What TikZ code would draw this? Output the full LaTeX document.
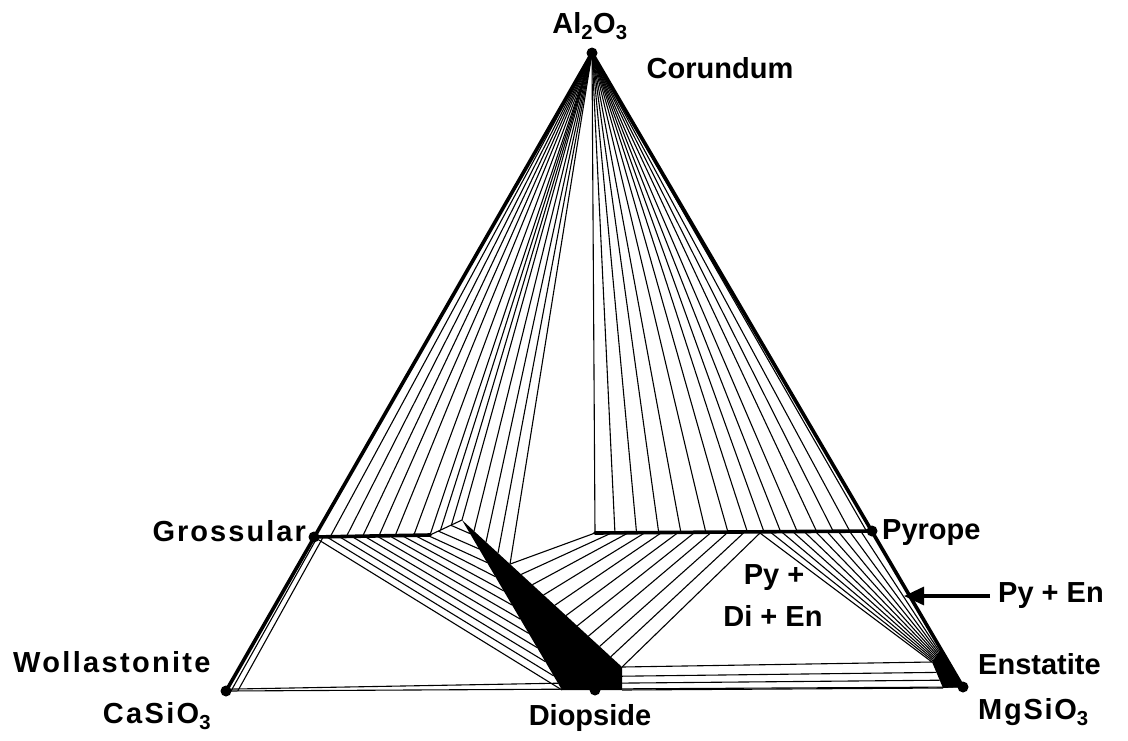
\documentclass[tikz,border=0pt]{standalone}
\usepackage{fontspec}
\setmainfont{Liberation Sans}
\usetikzlibrary{arrows.meta,calc}
\begin{document}
\begin{tikzpicture}[x=1pt,y=-1pt,
  edge/.style={line width=3.6pt, line cap=round, line join=round},
  tie/.style={line width=1.1pt},
  lbl/.style={font=\fontsize{29}{31}\selectfont\bfseries, inner sep=0pt},
  dot/.style={circle, fill=black, inner sep=0pt, minimum size=11pt}]
\useasboundingbox (0,0) rectangle (1128,740);
% key points
\coordinate (A) at (592,53);
\coordinate (C) at (226,691);
\coordinate (M) at (963,687);
\coordinate (Gr) at (314,537);
\coordinate (Py) at (872,531);
\coordinate (Di) at (595,690);
\coordinate (K) at (430,535);
\coordinate (WT) at (462,520);
\coordinate (WL) at (562,690);
\coordinate (WR) at (622,690);
\coordinate (WRt) at (622,667);
\coordinate (W1) at ($(WT)!0.3!(WRt)$);
\coordinate (V) at (595,533);
\coordinate (PD) at (760,533);
\coordinate (E1) at (940,650);
\coordinate (E2) at (943,688);
\coordinate (E3) at (932,662);
\coordinate (arrtip) at (904,596);

% base
\draw[tie] (C) -- (M);
\draw[tie] ($(C)!0.012!(Gr)$) -- ($(WL)!0.04!(WT)$);
% Gr - Wo tie lines
\draw[tie] ($(Gr)!0.03!(K)$) -- ($(C)!0.015!(WL)$);
\draw[tie] ($(Gr)!0.08!(K)$) -- ($(C)!0.035!(WL)$);
% Gr - Di tie lines
\foreach \s/\r in {0/0, .108/.083, .217/.167, .325/.25, .433/.333, .541/.417, .649/.5, .757/.583, .866/.667, .974/.75}
  \draw[tie] ($(Gr)!\s!(K)$) -- ($(WL)!\r!(WT)$);
\foreach \u/\r in {.26/.83, .65/.92}
  \draw[tie] ($(K)!\u!(WT)$) -- ($(WL)!\r!(WT)$);
\draw[tie] (K) -- (WT);
% Corundum fans (left)
\foreach \t in {0.14,0.28,0.42,0.56,0.70,0.86}
  \draw[tie] (A) -- ($(Gr)!\t!(K)$);
\draw[tie] (A) -- (K);
\foreach \t in {0.33,0.67}
  \draw[tie] (A) -- ($(K)!\t!(WT)$);
\draw[tie] (A) -- (WT);
\foreach \t in {0.25,0.5,0.75,1}
  \draw[tie] (A) -- ($(WT)!\t!(W1)$);
% Corundum fan (right)
\draw[tie] (A) -- (V);
\foreach \t in {.072,.15,.23,.31,.40,.48,.55,.61,.67,.73,.80,.86,.92,.98}
  \draw[tie] (A) -- ($(V)!\t!(Py)$);
% Di - Py tie lines
\foreach \t in {0,0.1,...,1.01}
  \draw[tie] ($(W1)!\t!(WRt)$) -- ($(V)!\t!(PD)$);
% Py - En tie lines
\foreach \t in {0,0.1,...,0.91}
  \draw[tie] ($(PD)!\t!(Py)$) -- ($(E3)!\t!(E1)$);
% Di - En tie lines
\foreach \t in {0,0.3,0.6,1}
  \draw[tie] ($(WR)!\t!(WRt)$) -- ($(E2)!\t!(E3)$);
% solid-solution wedges
\fill (WT) -- (WL) -- (WR) -- (WRt) -- cycle;
\fill (E1) -- (M) -- (E2) -- (E3) -- cycle;
% thick lines
\draw[edge] (C) -- (A) -- (M);
\draw[edge] (Gr) -- (K);
\draw[edge] (V) -- (Py);
% dots
\foreach \p in {A,C,M,Gr,Py,Di}
  \node[dot] at (\p) {};
% labels
\node[lbl] (al) at (590,26) {Al\textsubscript{2}O\textsubscript{3}};
\node[lbl] (cor) at (720,68) {Corundum};
\node[lbl, anchor=east] (gro) at (306,531) {\addfontfeature{LetterSpace=7}Grossular};
\node[lbl, anchor=west] (pyr) at (882,533) {Pyrope};
\node[lbl] (py1) at (774,578) {Py +};
\node[lbl] (py2) at (773,616) {Di + En};
\node[lbl, anchor=west] (pyen) at (998,596) {Py + En};
\node[lbl, anchor=west] (wol) at (13,662) {\addfontfeature{LetterSpace=8}Wollastonite};
\node[lbl] (cas) at (157,716) {\addfontfeature{LetterSpace=8}CaSiO\textsubscript{3}};
\node[lbl] (dio) at (590,718) {Diopside};
\node[lbl, anchor=west] (ens) at (978,664) {Enstatite};
\node[lbl, anchor=west] (mgs) at (978,712) {\addfontfeature{LetterSpace=6}MgSiO\textsubscript{3}};
% arrow
\draw[line width=3.2pt, -{Triangle[length=20pt,width=18pt]}] ([xshift=-8pt]pyen.west) -- (arrtip);
\end{tikzpicture}
\end{document}
